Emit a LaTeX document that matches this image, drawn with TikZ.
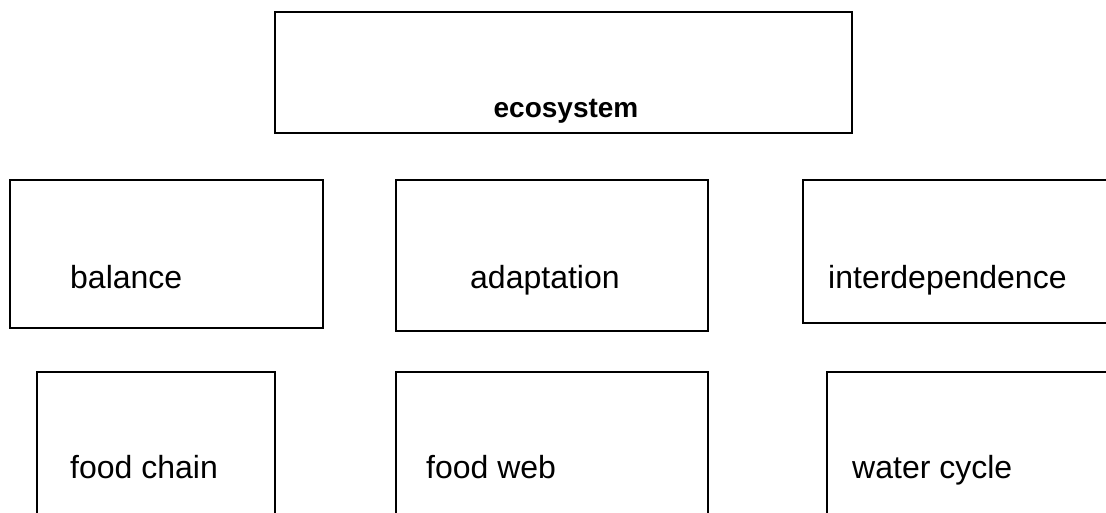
\documentclass[tikz,border=0pt]{standalone}
\usepackage{fontspec}
\setmainfont{Liberation Sans}
\begin{document}
\begin{tikzpicture}[x=1pt,y=-1pt,
  box/.style={draw=black,line width=1.3pt,fill=none},
  thickbox/.style={draw=black,line width=2pt},
  lbl/.style={anchor=base west,inner sep=0pt,font=\fontsize{32}{38}\selectfont},
  title/.style={anchor=base,inner sep=0pt,font=\fontsize{28}{34}\selectfont\bfseries}]
\useasboundingbox (0,0) rectangle (1106,512);
\clip (0,0) rectangle (1106,512);
\fill[white] (0,0) rectangle (1106,512);
% boxes
\draw[box] (275,12) rectangle (852,133);
\node[title] (eco) at (566,117) {ecosystem};

\draw[box] (10,180) rectangle (323,328);
\node[lbl] (bal) at (70,288) {balance};

\draw[thickbox] (396,180) rectangle (708,331);
\node[lbl] (ada) at (470,288) {adaptation};

\draw[box] (803,180) rectangle (1120,323);
\node[lbl] (inter) at (828,288) {interdependence};

\draw[box] (37,372) rectangle (275,530);
\node[lbl] (fc) at (70,478) {food chain};

\draw[box] (396,372) rectangle (708,530);
\node[lbl] (fw) at (426,478) {food web};

\draw[box] (827,372) rectangle (1120,530);
\node[lbl] (wc) at (852,478) {water cycle};
\end{tikzpicture}
\end{document}
